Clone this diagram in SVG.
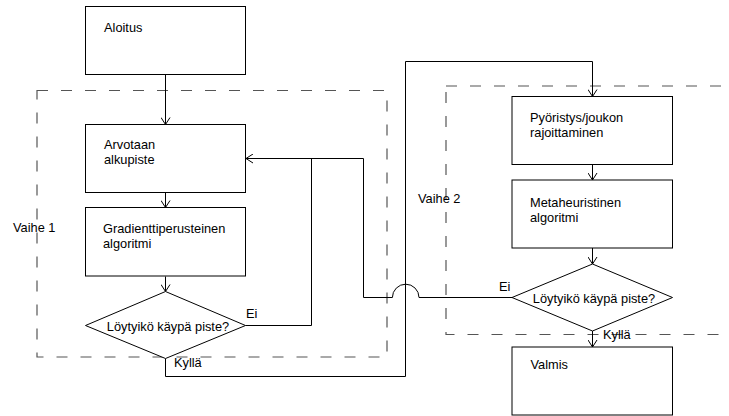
<svg xmlns="http://www.w3.org/2000/svg" width="729" height="416" viewBox="0 0 729 416">
<defs>
<style>
.box{fill:#fff;stroke:#000;stroke-width:1}
.phase{fill:none;stroke:#555;stroke-width:1.2;stroke-dasharray:11 13}
.con{fill:none;stroke:#000;stroke-width:1}
text{font-family:"Liberation Sans",Arial,sans-serif;font-size:12.8px;fill:#000}
</style>
<marker id="arr" viewBox="0 0 10 10" refX="9" refY="5" markerWidth="10" markerHeight="10" markerUnits="userSpaceOnUse" orient="auto">
<path d="M2,0.5 L9,5 L2,9.5" fill="none" stroke="#000" stroke-width="1"/>
</marker>
</defs>
<rect width="729" height="416" fill="#fff"/>
<g id="phase1">
<rect class="phase" x="37" y="90.5" width="350" height="266.5"/>
<text x="13" y="232">Vaihe 1</text>
</g>
<g id="phase2">
<rect class="phase" x="446" y="86" width="300" height="248.5"/>
<text x="418" y="203">Vaihe 2</text>
</g>
<g id="connectors">
<path class="con" d="M165.5 74.5 V124.5" marker-end="url(#arr)"/>
<path class="con" d="M165.5 192.5 V207.5" marker-end="url(#arr)"/>
<path class="con" d="M165.5 276.5 V291.5" marker-end="url(#arr)"/>
<path class="con" d="M245.5 325.5 H311.5 V158.5"/>
<path class="con" d="M512 297.5 H419 A13.3 13.3 0 0 0 392.4 297.5 H363.5 V158.5 H246" marker-end="url(#arr)"/>
<path class="con" d="M165.5 358.5 V376.5 H405.5 V61.5 H592.5 V96.5" marker-end="url(#arr)"/>
<path class="con" d="M592.5 164.5 V180" marker-end="url(#arr)"/>
<path class="con" d="M592.5 248 V264" marker-end="url(#arr)"/>
<path class="con" d="M592.5 331 V347" marker-end="url(#arr)"/>
<text x="246" y="318">Ei</text>
<text x="174" y="366.5">Kyllä</text>
<text x="499" y="291">Ei</text>
<text x="603" y="338.5">Kyllä</text>
</g>
<g id="aloitus">
<rect class="box" x="85.5" y="6.5" width="160" height="68"/>
<text x="104" y="32">Aloitus</text>
</g>
<g id="arvotaan">
<rect class="box" x="85.5" y="124.5" width="160" height="68"/>
<text x="104" y="149">Arvotaan</text>
<text x="104" y="164">alkupiste</text>
</g>
<g id="gradientti">
<rect class="box" x="85.5" y="207.5" width="160" height="68.5"/>
<text x="103" y="233">Gradienttiperusteinen</text>
<text x="103" y="248">algoritmi</text>
</g>
<g id="paatos1">
<polygon class="box" points="165.5,291.5 245.5,325.5 165.5,358.5 85.5,325.5"/>
<text x="168" y="330.5" text-anchor="middle">Löytyikö käypä piste?</text>
</g>
<g id="pyoristys">
<rect class="box" x="512" y="96.5" width="160.5" height="68"/>
<text x="530" y="121.5">Pyöristys/joukon</text>
<text x="530" y="136.5">rajoittaminen</text>
</g>
<g id="metaheuristinen">
<rect class="box" x="512" y="180" width="160.5" height="68"/>
<text x="530" y="206.5">Metaheuristinen</text>
<text x="530" y="221.5">algoritmi</text>
</g>
<g id="paatos2">
<polygon class="box" points="592.5,264 672.5,297.5 592.5,331 512,297.5"/>
<text x="594" y="303" text-anchor="middle">Löytyikö käypä piste?</text>
</g>
<g id="valmis">
<rect class="box" x="512" y="347" width="160.5" height="68"/>
<text x="530.5" y="369">Valmis</text>
</g>
</svg>
